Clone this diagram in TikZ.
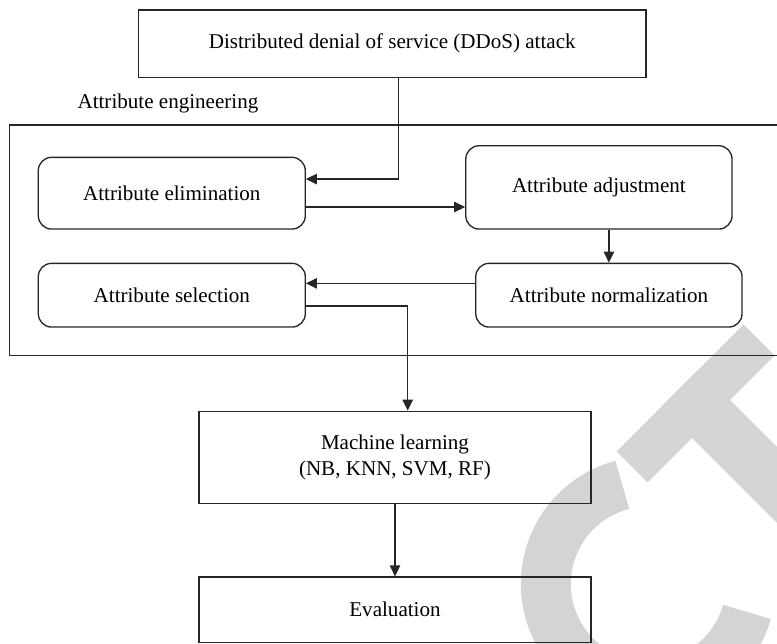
\documentclass[tikz,border=0pt]{standalone}
\usepackage{fontspec}
\setmainfont{Liberation Serif}
\usetikzlibrary{arrows.meta,calc}
\begin{document}
\begin{tikzpicture}[x=0.75pt,y=-0.75pt,
  txt/.style={font=\fontsize{15.8pt}{20pt}\selectfont},
  box/.style={txt, draw=black!85, line width=1pt, rectangle, inner sep=0pt, align=center},
  rbox/.style={box, rounded corners=10pt},
  arr/.style={draw=black!85, line width=1pt, -{Triangle[length=8.2pt,width=7.8pt]}},
  wm/.style={fill=black!17, draw=none}]
\useasboundingbox (0,0) rectangle (777,643);

% light grey stamp lettering behind the chart
\draw[black!17, line width=37.5pt]
  ($(648.3,584)+(255.3:102.5)$) arc[start angle=255.3, end angle=15.8, radius=102.5];
\fill[wm] (616.5,451.5) -- (647.5,482.5) -- (774.5,355.5) -- (743.5,324.5) -- cycle;
\fill[wm] (661,407) -- (699,369) -- (915,585) -- (877,623) -- cycle;

% blocks
\node[box, minimum width=380.8pt, minimum height=50.5pt] (ddos) at (392.2,43.7)
  {Distributed denial of service (DDoS) attack};
\node[txt, anchor=base west, inner sep=0pt] (englabel) at (77.3,108.3) {Attribute engineering};
\node[box, minimum width=585.5pt, minimum height=173pt] (eng) at (399.65,240.35) {};

\node[rbox, minimum width=200.25pt, minimum height=53.8pt] (elim) at (171.8,193.2) {Attribute elimination};
\node[rbox, minimum width=199.7pt, minimum height=62.5pt] (adj) at (598.9,187.4) {Attribute adjustment};
\node[rbox, minimum width=199.7pt, minimum height=47.8pt] (norm) at (608.9,295.2) {Attribute normalization};
\node[rbox, minimum width=200.25pt, minimum height=47.8pt] (sel) at (171.8,295.2) {Attribute selection};

\node[box, minimum width=294pt, minimum height=69.3pt] (ml) at (395,457.5)
  {Machine learning\\(NB, KNN, SVM, RF)};
\node[box, minimum width=294pt, minimum height=49.1pt] (eval) at (395,609.75) {Evaluation};

% connectors
\draw[arr] ([xshift=4.6pt]ddos.south) |- ([yshift=10.6pt]elim.east);
\draw[arr] ([yshift=-10.35pt]elim.east) -- ([yshift=-10.35pt]elim.east -| adj.west);
\draw[arr] (adj.south -| norm.north) -- (norm.north);
\draw[arr] ([yshift=8.9pt]norm.west) -- ([yshift=8.9pt]norm.west -| sel.east);
\draw[arr] ([yshift=-8.1pt]sel.east) -| ([xshift=9.5pt]ml.north);
\draw[arr] (ml) -- (eval);
\end{tikzpicture}
\end{document}
